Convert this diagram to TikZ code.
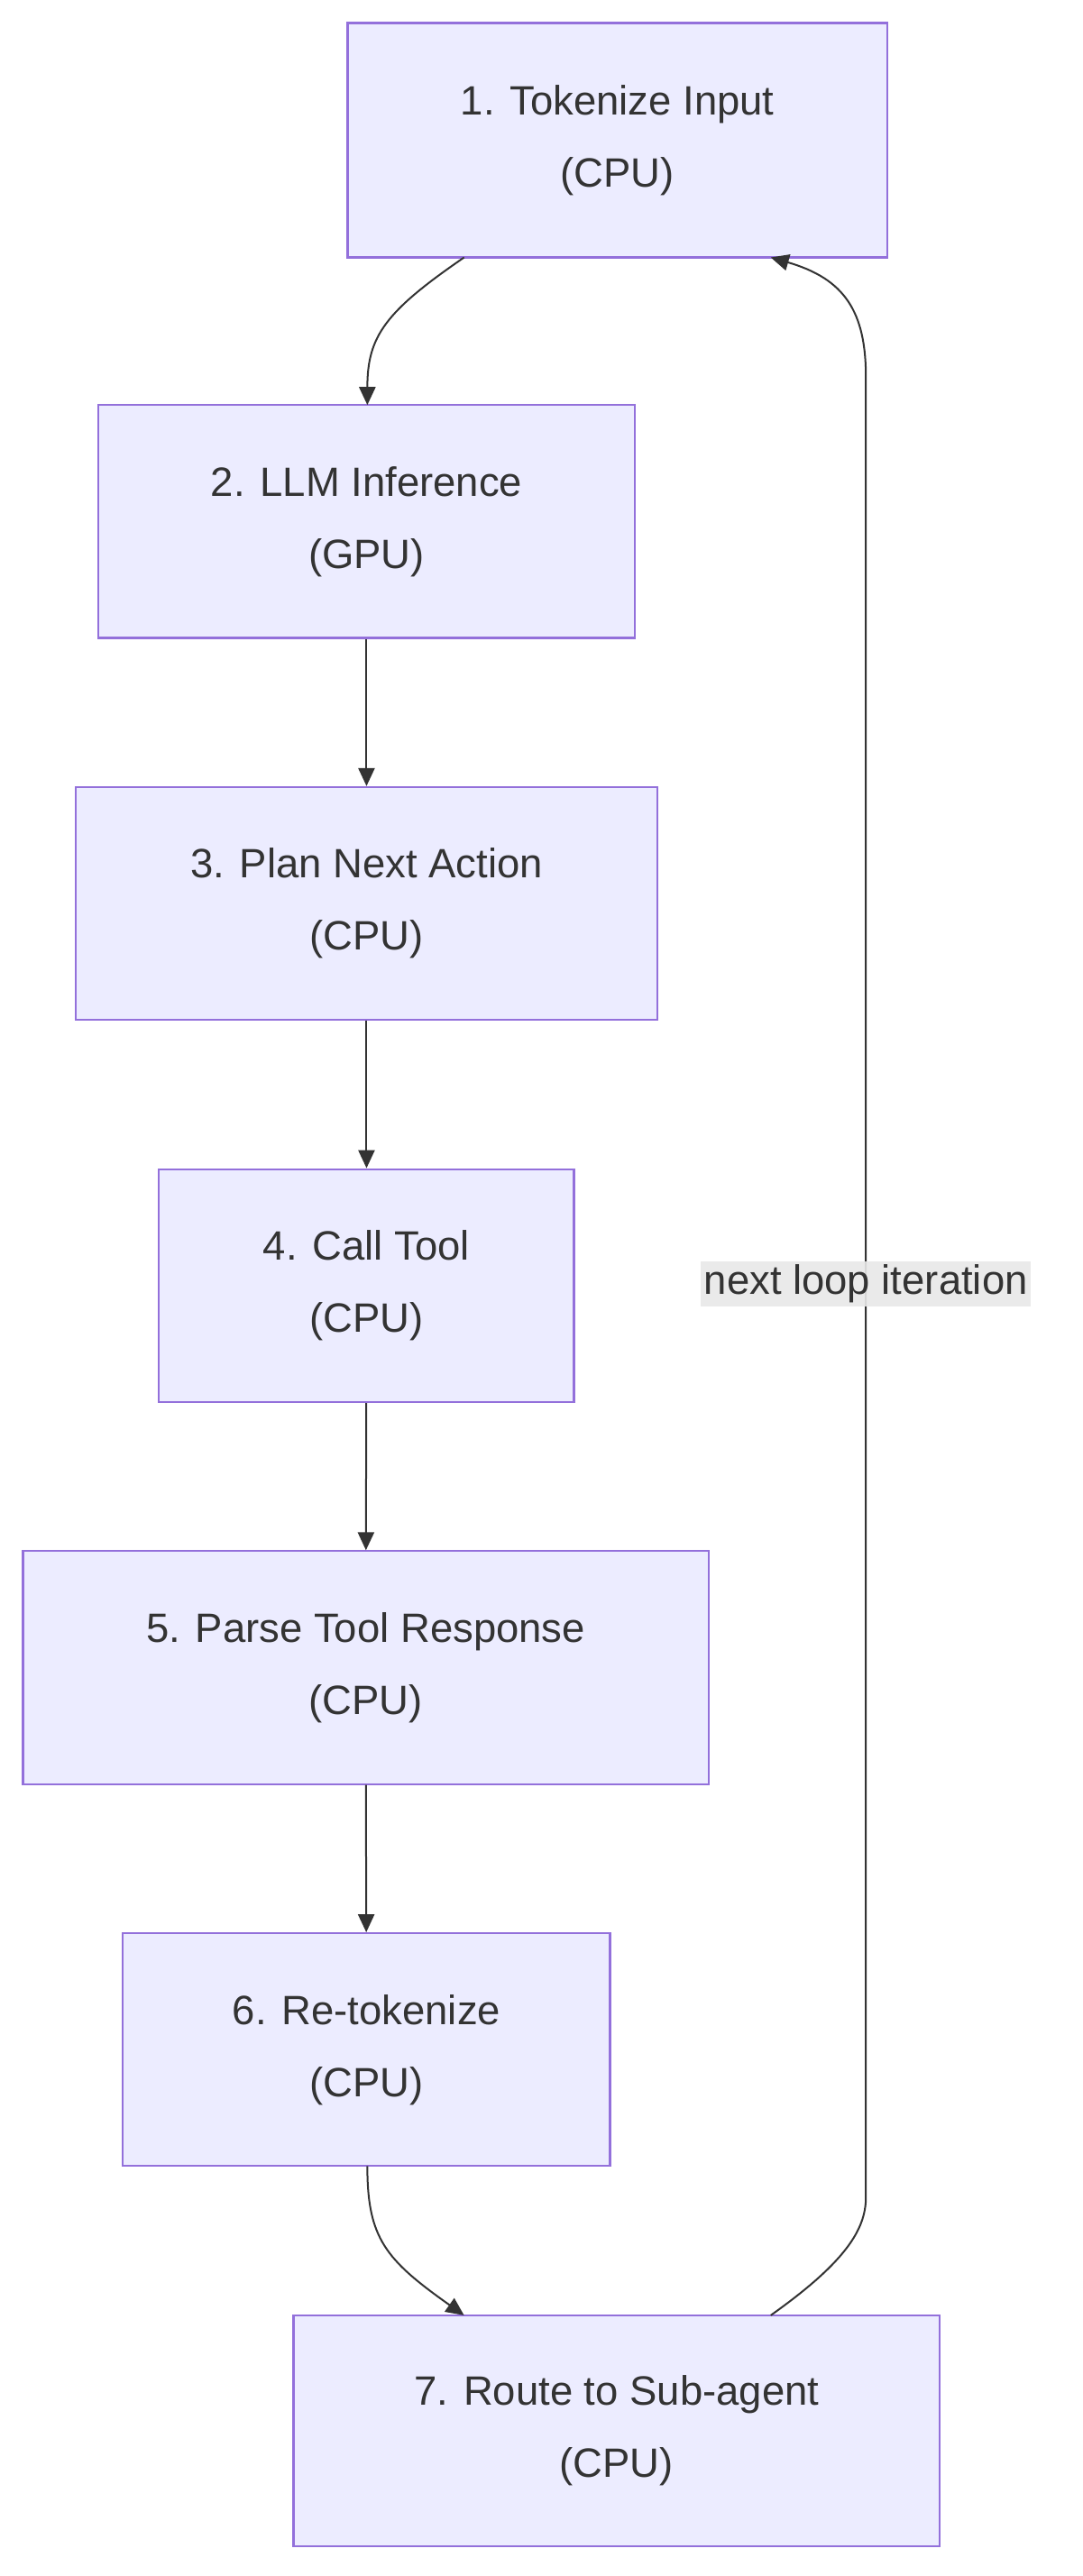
\documentclass[tikz,border=0pt]{standalone}
\usepackage{fontspec}
\setmainfont{Liberation Sans}
\usetikzlibrary{arrows.meta}
\definecolor{nfill}{HTML}{ECECFF}
\definecolor{nline}{HTML}{9370DB}
\definecolor{eline}{HTML}{333333}
\definecolor{lbg}{HTML}{E8E8E8}
\begin{document}
\begin{tikzpicture}[x=1pt,y=-1pt,
  box/.style={draw=nline,fill=nfill,line width=1.2pt,inner sep=0pt,align=center,
    font=\fontsize{25}{44}\selectfont,text=eline},
  edge/.style={draw=eline,line width=1.1pt,-{Triangle[length=11pt,width=10pt]}}]
\useasboundingbox (0,0) rectangle (660,1571);
\node[box,minimum width=329pt,minimum height=143pt] (n1) at (376.5,85.5) {1. Tokenize Input\\(CPU)};
\node[box,minimum width=327pt,minimum height=142pt] (n2) at (223.5,318) {2. LLM Inference\\(GPU)};
\node[box,minimum width=355pt,minimum height=142pt] (n3) at (223.5,551) {3. Plan Next Action\\(CPU)};
\node[box,minimum width=253pt,minimum height=142pt] (n4) at (223.5,784) {4. Call Tool\\(CPU)};
\node[box,minimum width=418pt,minimum height=142pt] (n5) at (223,1017) {5. Parse Tool Response\\(CPU)};
\node[box,minimum width=297pt,minimum height=142pt] (n6) at (223.5,1250) {6. Re-tokenize\\(CPU)};
\node[box,minimum width=394pt,minimum height=141pt] (n7) at (376,1482.5) {7. Route to Sub-agent\\(CPU)};
\coordinate (a1) at (283,157);
\coordinate (b2) at (224,247);
\draw[edge] (a1) .. controls (235,190) and (224,205) .. (b2);
\draw[edge] (n2) -- (n3);
\draw[edge] (n3) -- (n4);
\draw[edge] (n4) -- (n5);
\draw[edge] (n5) -- (n6);
\coordinate (a6) at (224,1321);
\coordinate (b7) at (283,1412);
\draw[edge] (a6) .. controls (224,1365) and (235,1378) .. (b7);
\coordinate (s7) at (470,1412);
\coordinate (l1) at (528,1340);
\coordinate (l2) at (528,230);
\coordinate (t1) at (470,157);
\draw[edge] (s7) .. controls (515,1380) and (528,1360) .. (l1) -- (l2) .. controls (528,190) and (515,170) .. (t1);
\node[fill=lbg,fill opacity=0.9,text opacity=1,inner sep=2pt,font=\fontsize{25}{30}\selectfont,text=eline] (lab) at (528,783) {next loop iteration};
\end{tikzpicture}
\end{document}
